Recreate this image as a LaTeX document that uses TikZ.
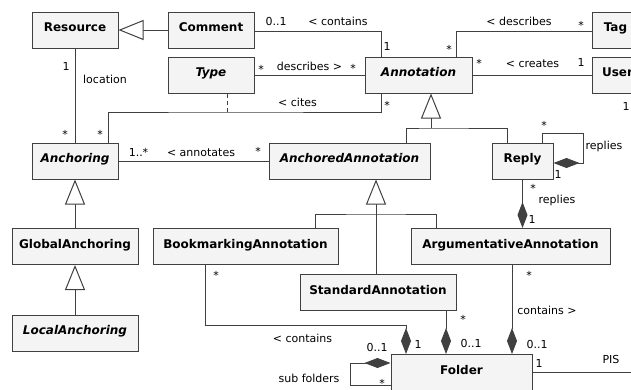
\documentclass[tikz,border=0pt]{standalone}
\usepackage{fontspec}
\setmainfont{DejaVu Sans}
\usetikzlibrary{arrows.meta}
\definecolor{boxfill}{HTML}{F4F4F4}
\definecolor{linegray}{HTML}{404040}
\tikzset{
 cls/.style={draw=linegray,fill=boxfill,line width=1pt,inner sep=0pt,minimum height=36pt,text height=9pt,text depth=6pt,font=\fontsize{12}{14}\selectfont\bfseries},
 acls/.style={cls,font=\fontsize{12}{14}\selectfont\bfseries\itshape},
 lbl/.style={inner sep=0pt,text height=8pt,text depth=2pt,font=\fontsize{11}{13}\selectfont},
 mult/.style={lbl,yshift=-2pt},
 gen/.style={-{Triangle[length=25pt,width=20pt,fill=white]}},
 comp/.style={-{Diamond[length=26pt,width=10pt]}},
}
\begin{document}
\begin{tikzpicture}[x=1pt,y=-1pt,line width=1pt,draw=linegray]
\useasboundingbox (0,0) rectangle (631,389);
\clip (0,0) rectangle (631,389);
%classes
\node[cls,minimum width=86pt] (res) at (75,30) {Resource};
\node[cls,minimum width=86pt] (cmt) at (211,30) {Comment};
\node[acls,minimum width=86pt] (typ) at (211,75) {Type};
\node[acls,minimum width=107pt] (ann) at (418.5,75) {Annotation};
\node[cls,minimum width=47pt] (tag) at (615.5,30) {Tag};
\node[cls,minimum width=51pt] (usr) at (617.5,75) {User};
\node[acls,minimum width=86pt] (anc) at (75,161) {Anchoring};
\node[acls,minimum width=161pt] (aan) at (349.5,161) {AnchoredAnnotation};
\node[cls,minimum width=61pt] (rep) at (522.5,161) {Reply};
\node[cls,minimum width=126pt] (gan) at (75,246.5) {GlobalAnchoring};
\node[cls,minimum width=185pt] (bma) at (245.5,246.5) {BookmarkingAnnotation};
\node[cls,minimum width=199pt] (arg) at (510.5,246.5) {ArgumentativeAnnotation};
\node[acls,minimum width=126pt] (lan) at (75,333) {LocalAnchoring};
\node[cls,minimum width=156pt] (sta) at (378,292.5) {StandardAnnotation};
\node[cls,minimum width=141pt] (fol) at (461.5,372.5) {Folder};
%bends
\coordinate (cite) at (227,112);
\coordinate (annfork) at (431,128);
\coordinate (aanfork) at (376,214);
\coordinate (reploop) at (583,133);
\coordinate (bmfold) at (406,325);
\coordinate (subloop) at (350,363);
\coordinate (pisend) at (640,372.5);
%associations
\draw[gen] (cmt) -- (res);
\draw ([yshift=-1.5pt]cmt.east) -| ([xshift=-37.5pt]ann.north);
\draw (typ) -- (ann);
\draw ([xshift=37.5pt]ann.north) |- ([yshift=-1.5pt]tag.west);
\draw (ann) -- (usr);
\draw ([xshift=-37.5pt]ann.south) |- (cite) -| ([xshift=33pt]anc.north);
\draw[dash pattern=on 4pt off 3pt] (typ.south -| cite) -- (cite);
\draw (res) -- (anc);
\draw (anc) -- (aan);
\draw (fol) -- (pisend);
%generalizations
\draw[gen] (annfork) -- (ann.south -| annfork);
\draw ([xshift=56.5pt]aan.north) |- (annfork) -| ([xshift=-15.5pt]rep.north);
\draw[gen] (sta.north -| aanfork) -- (aan.south -| aanfork);
\draw ([xshift=69.5pt]bma.north) |- (aanfork) -| ([xshift=-74.5pt]arg.north);
\draw[gen] (gan) -- (anc);
\draw[gen] (lan) -- (gan);
%compositions
\draw[comp] ([xshift=19.5pt]rep.north) |- (reploop) |- ([yshift=-2pt]rep.east);
\draw[comp] (rep.south) -- (rep.south |- arg.north);
\draw[comp] ([xshift=-40.5pt]bma.south) |- (bmfold) -- (bmfold |- fol.north);
\draw[comp] ([xshift=68pt]sta.south) -- ([xshift=-15.5pt]fol.north);
\draw[comp] ([xshift=1.5pt]arg.south) -- ([xshift=50.5pt]fol.north);
\draw[comp] ([yshift=-12.5pt]fol.west) -| (subloop) -- ([yshift=9.5pt]fol.west);
%labels
\node[lbl] (cmt-n) at (276,22) {0..1};
\node[lbl] (cmt-r) at (338,22) {< contains};
\node[lbl] (cmt-a) at (387,47) {1};
\node[mult] (typ-n) at (261,68) {*};
\node[lbl] (typ-r) at (309.5,67) {describes >};
\node[mult] (typ-a) at (353,67) {*};
\node[lbl] (tag-r) at (519,22) {< describes};
\node[mult] (tag-n) at (581,24) {*};
\node[mult] (tag-a) at (449,48) {*};
\node[mult] (usr-a) at (479,62) {*};
\node[lbl] (usr-r) at (532.5,64) {< creates};
\node[lbl] (usr-n) at (581,63) {1};
\node[lbl] (usr-b) at (626,107) {1};
\node[mult] (cit-a) at (387,104) {*};
\node[lbl] (cit-r) at (297.5,103) {< cites};
\node[mult] (cit-n) at (100,133) {*};
\node[lbl] (loc-n) at (66,67) {1};
\node[lbl] (loc-r) at (105,80) {location};
\node[mult] (loc-a) at (65,133) {*};
\node[lbl] (anc-n) at (138.5,153) {1..*};
\node[lbl] (anc-r) at (201,153) {< annotates};
\node[mult] (anc-a) at (258,150) {*};
\node[mult] (rep-n) at (544,124) {*};
\node[lbl] (rep-r) at (604,146) {replies};
\node[lbl] (rep-a) at (558,175) {1};
\node[mult] (arg-n) at (533,187) {*};
\node[lbl] (arg-r) at (557,200) {replies};
\node[lbl] (arg-a) at (532,220) {1};
\node[mult] (bma-n) at (216,274) {*};
\node[lbl] (bma-r) at (302.5,339) {< contains};
\node[lbl] (bma-a) at (418,345) {1};
\node[mult] (sta-n) at (463,318) {*};
\node[lbl] (sta-a) at (471,344) {0..1};
\node[mult] (arg-m) at (529,274) {*};
\node[lbl] (arg-c) at (547,311) {contains >};
\node[lbl] (arg-f) at (537,345) {0..1};
\node[lbl] (sub-a) at (377,348) {0..1};
\node[mult] (sub-n) at (382,382) {*};
\node[lbl] (sub-r) at (309,379) {sub folders};
\node[lbl] (pis-n) at (539,364) {1};
\node[lbl] (pis-r) at (611,360) {PIS};
\end{tikzpicture}
\end{document}
